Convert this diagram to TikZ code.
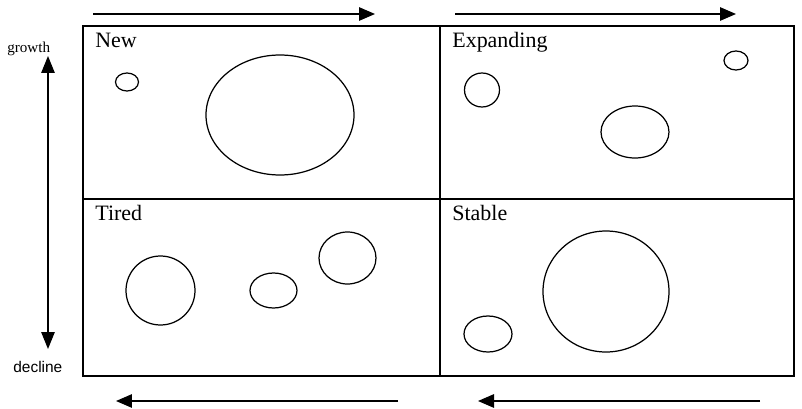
\documentclass[tikz,border=0pt]{standalone}
\usepackage{fontspec}
\setmainfont{Liberation Serif}
\newfontfamily\sidesans{Liberation Sans}
\usetikzlibrary{arrows.meta,positioning,calc}
\tikzset{
  flowln/.style={-{Triangle[length=3.2mm,width=2.7mm]}, line width=0.7pt},
  updownln/.style={{Triangle[length=3.4mm,width=2.7mm]}-{Triangle[length=3.4mm,width=2.7mm]}, line width=0.7pt},
  frameln/.style={line width=0.7pt},
  blobln/.style={line width=0.7pt},
  quadlbl/.style={anchor=base west, inner sep=0pt, font=\fontsize{12.5}{14}\selectfont},
  sidelbl/.style={anchor=base west, inner sep=0pt},
}

\begin{document}
\begin{tikzpicture}[x=0.02cm, y=-0.02cm]
    \useasboundingbox (0,0) rectangle (802,409);
    % Frame and quadrant dividers
    \coordinate (nw) at (83,26);
    \coordinate (se) at (794,376);
    \coordinate (midtop) at (440,26);
    \coordinate (midbot) at (440,376);
    \coordinate (midleft) at (83,199);
    \coordinate (midright) at (794,199);
    \draw[frameln] (nw) rectangle (se);
    \draw[frameln] (midtop) -- (midbot);
    \draw[frameln] (midleft) -- (midright);
    % Quadrant titles
    \node[quadlbl] (new) at (95,48) {New};
    \node[quadlbl] (expanding) at (452,48) {Expanding};
    \node[quadlbl] (tired) at (95,220) {Tired};
    \node[quadlbl] (stable) at (452,220) {Stable};
    % Flow arrows above and below
    \coordinate (topA) at (93,14);
    \coordinate (topB) at (375,14);
    \coordinate (topC) at (455,14);
    \coordinate (topD) at (736,14);
    \coordinate (botA) at (398,401);
    \coordinate (botB) at (116,401);
    \coordinate (botC) at (760,401);
    \coordinate (botD) at (478,401);
    \draw[flowln] (topA) -- (topB);
    \draw[flowln] (topC) -- (topD);
    \draw[flowln] (botA) -- (botB);
    \draw[flowln] (botC) -- (botD);
    % Growth / decline axis
    \node[sidelbl, font=\fontsize{8.6}{10}\selectfont] (growth) at (7,52) {growth};
    \node[sidelbl, font=\sidesans\fontsize{8.8}{10}\selectfont] (decline) at (13,372) {decline};
    \coordinate (up) at (48,56);
    \coordinate (down) at (48,349);
    \draw[updownln] (down) -- (up);
    % New
    \draw[blobln] (127,82) ellipse [x radius=11.5, y radius=9];
    \draw[blobln] (280,115) ellipse [x radius=74, y radius=60];
    % Expanding
    \draw[blobln] (482,90) ellipse [x radius=17.5, y radius=17];
    \draw[blobln] (635,132) ellipse [x radius=34, y radius=26];
    \draw[blobln] (736,60.5) ellipse [x radius=12, y radius=9.5];
    % Tired
    \draw[blobln] (160.5,290.5) ellipse [x radius=34.5, y radius=34.5];
    \draw[blobln] (273.5,290.5) ellipse [x radius=23.5, y radius=17.5];
    \draw[blobln] (347.5,258) ellipse [x radius=28.5, y radius=26];
    % Stable
    \draw[blobln] (606,291.5) ellipse [x radius=63, y radius=60.5];
    \draw[blobln] (488,334) ellipse [x radius=24, y radius=18];
  \end{tikzpicture}
\end{document}
